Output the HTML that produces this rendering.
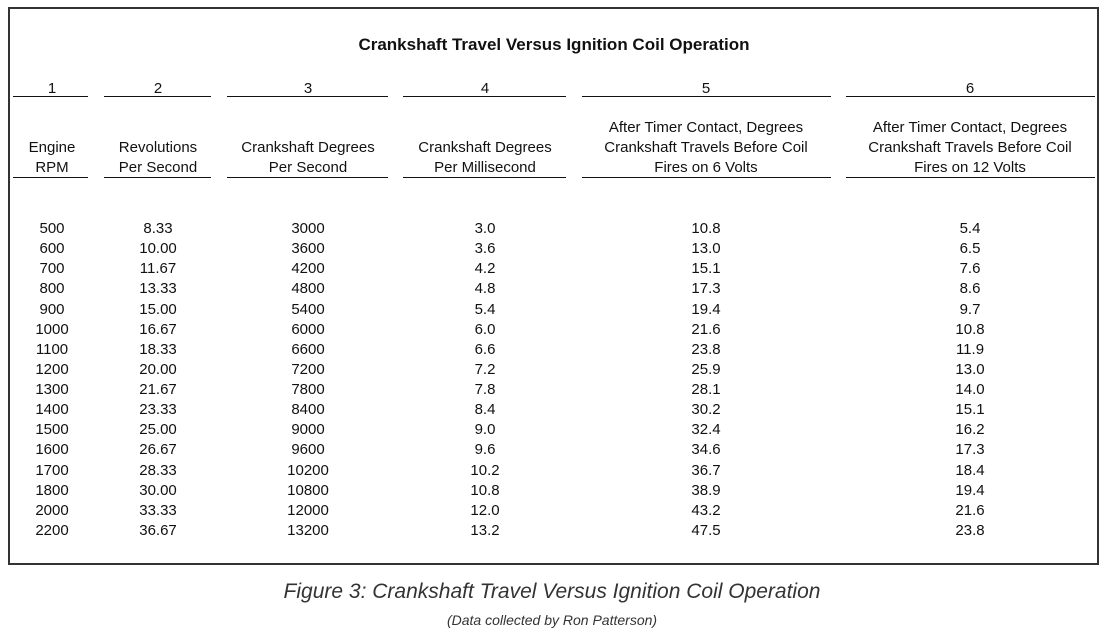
<!DOCTYPE html>
<html><head><meta charset="utf-8"><style>
body{margin:0;width:1110px;height:630px;background:#fff;font-family:"Liberation Sans",Arial,sans-serif;color:#111;position:relative;overflow:hidden}
.box{position:absolute;left:8px;top:7px;width:1087px;height:554px;border:2px solid #333}
.t{position:absolute;text-align:center;font-size:15px;line-height:20px;white-space:nowrap;transform:translateX(-50%)}
.u{position:absolute;height:0;border-top:1.5px solid #111}
</style></head><body>
<div class="box"></div>
<div class="t" style="left:554px;top:35px;font-weight:bold;font-size:17px">Crankshaft Travel Versus Ignition Coil Operation</div>
<div id="c"></div>
<div class="t" style="left:552px;top:579px;font-style:italic;font-size:21px;line-height:26px;color:#333">Figure 3: Crankshaft Travel Versus Ignition Coil Operation</div>
<div class="t" style="left:552px;top:610px;font-style:italic;font-size:14px;color:#333">(Data collected by Ron Patterson)</div>
<script>
var cols=[[52,13,88],[158,104,211],[308,227,388],[485,403,566],[706,582,831],[970,846,1095]];
var hd=[["Engine","RPM"],["Revolutions","Per Second"],["Crankshaft Degrees","Per Second"],["Crankshaft Degrees","Per Millisecond"],["After Timer Contact, Degrees","Crankshaft Travels Before Coil","Fires on 6 Volts"],["After Timer Contact, Degrees","Crankshaft Travels Before Coil","Fires on 12 Volts"]];
var d=[[500,"8.33",3000,"3.0","10.8","5.4"],[600,"10.00",3600,"3.6","13.0","6.5"],[700,"11.67",4200,"4.2","15.1","7.6"],[800,"13.33",4800,"4.8","17.3","8.6"],[900,"15.00",5400,"5.4","19.4","9.7"],[1000,"16.67",6000,"6.0","21.6","10.8"],[1100,"18.33",6600,"6.6","23.8","11.9"],[1200,"20.00",7200,"7.2","25.9","13.0"],[1300,"21.67",7800,"7.8","28.1","14.0"],[1400,"23.33",8400,"8.4","30.2","15.1"],[1500,"25.00",9000,"9.0","32.4","16.2"],[1600,"26.67",9600,"9.6","34.6","17.3"],[1700,"28.33",10200,"10.2","36.7","18.4"],[1800,"30.00",10800,"10.8","38.9","19.4"],[2000,"33.33",12000,"12.0","43.2","21.6"],[2200,"36.67",13200,"13.2","47.5","23.8"]];
var h="";
cols.forEach(function(c,i){
h+='<div class="t" style="left:'+c[0]+'px;top:79px">'+(i+1)+'</div>';
h+='<div class="u" style="left:'+c[1]+'px;width:'+(c[2]-c[1])+'px;top:96px"></div>';
h+='<div class="u" style="left:'+c[1]+'px;width:'+(c[2]-c[1])+'px;top:177px"></div>';
var L=hd[i];L.forEach(function(s,j){h+='<div class="t" style="left:'+c[0]+'px;top:'+(177-L.length*20+j*20+1)+'px">'+s+'</div>';});
d.forEach(function(r,k){h+='<div class="t" style="left:'+c[0]+'px;top:'+(219+k*20.13)+'px">'+r[i]+'</div>';});
});
document.getElementById("c").innerHTML=h;
</script>
</body></html>
